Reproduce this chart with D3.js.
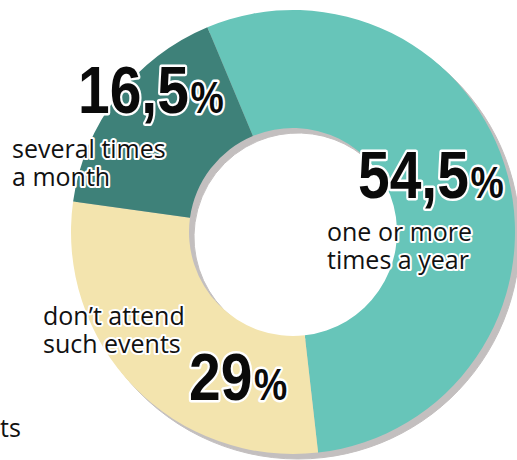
<!DOCTYPE html>
<html lang="en">
<head>
  <meta charset="UTF-8">
  <title>Event attendance</title>
  <script src="https://d3js.org/d3.v7.min.js"></script>
  <style>
    body {
      margin: 0;
      background: #fff;
    }

    .label {
      font-family: "Open Sans", sans-serif;
      font-size: 25px;
      fill: #111;
      stroke: #fff;
      stroke-width: 4px;
      stroke-linejoin: round;
      paint-order: stroke;
    }

    .value {
      font-family: "Liberation Sans", Arial, sans-serif;
      font-weight: bold;
      font-size: 67px;
      fill: #0a0a0a;
      stroke: #fff;
      stroke-width: 5px;
      stroke-linejoin: round;
      paint-order: stroke;
    }

    .value tspan.pct {
      font-size: 44px;
    }
  </style>
</head>
<body>
  <div id="chart"></div>

  <script>
    // data
    const categories = ["one or more times a year", "don't attend such events", "several times a month"];
    const values = [54.5, 29, 16.5];
    const valueLabels = ["54,5", "29", "16,5"];
    const labelLines = [
      ["one or more", "times a year"],
      ["don\u2019t attend", "such events"],
      ["several times", "a month"]
    ];
    const colors = ["#67c5b9", "#f3e4ae", "#3e8179"];

    const width = 517;
    const height = 460;
    const cx = 293, cy = 232;
    const outerR = 222, innerR = 104;

    const svg = d3.select("#chart")
      .append("svg")
      .attr("width", width)
      .attr("height", height);

    const pie = d3.pie()
      .sort(null)
      .startAngle(-0.396)
      .endAngle(-0.396 + 2 * Math.PI);

    const arcs = pie(values);

    const arc = d3.arc()
      .innerRadius(innerR)
      .outerRadius(outerR);

    // drop shadow of the ring
    svg.append("g")
      .attr("transform", `translate(${cx + 5},${cy + 5})`)
      .selectAll("path")
      .data(arcs)
      .enter()
      .append("path")
      .attr("d", arc)
      .attr("fill", "#c3bfbf")
      .attr("stroke", "#c3bfbf")
      .attr("stroke-width", 1);

    // slices
    svg.append("g")
      .attr("transform", `translate(${cx},${cy})`)
      .selectAll("path")
      .data(arcs)
      .enter()
      .append("path")
      .attr("d", arc)
      .attr("fill", (d, i) => colors[i]);

    // label placement (value text start, description start)
    const layout = [
      { vx: 358, vy: 198, lx: 327, ly: 241 },
      { vx: 189, vy: 400, lx: 43, ly: 325 },
      { vx: 78, vy: 113, lx: 12, ly: 158 }
    ];
    const lineGap = 28;
    const squeeze = 0.85; // condensed look for the big numbers

    categories.forEach((c, i) => {
      const p = layout[i];

      const t = svg.append("text")
        .attr("class", "label")
        .attr("x", p.lx)
        .attr("y", p.ly);
      labelLines[i].forEach((line, j) => {
        t.append("tspan")
          .attr("x", p.lx)
          .attr("dy", j === 0 ? 0 : lineGap)
          .text(line);
      });

      const v = svg.append("text")
        .attr("class", "value")
        .attr("transform", `translate(${p.vx},${p.vy}) scale(${squeeze},1)`);
      v.append("tspan").text(valueLabels[i]);
      v.append("tspan").attr("class", "pct").attr("dx", 2).text("%");
    });

    // cut-off text at lower left
    svg.append("text")
      .attr("class", "label")
      .attr("x", 0)
      .attr("y", 437)
      .text("ts");
  </script>
</body>
</html>
